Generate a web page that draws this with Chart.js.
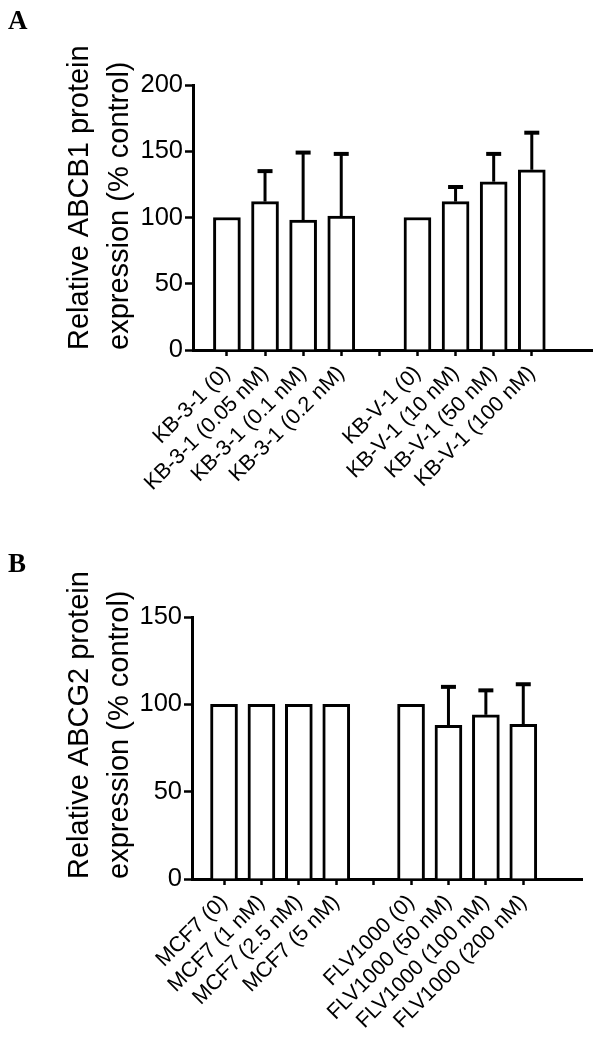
<!DOCTYPE html>
<html lang="en">
<head>
    <meta charset="UTF-8">
    <title>ABCB1 / ABCG2 protein expression</title>
    <script src="https://cdn.jsdelivr.net/npm/chart.js"></script>
    <style>
        body {
            margin: 0;
            background: #fff;
        }
        .panel {
            position: relative;
            width: 602px;
        }
        .panel-label {
            position: absolute;
            left: 8px;
            font-family: "Liberation Serif", "Times New Roman", serif;
            font-weight: bold;
            font-size: 27px;
            line-height: 27px;
        }
        canvas {
            display: block;
        }
    </style>
</head>
<body>

    <div class="panel">
        <div class="panel-label" style="top: 7px;">A</div>
        <canvas id="chartA" width="602" height="520"></canvas>
    </div>
    <div class="panel">
        <div class="panel-label" style="top: 30px;">B</div>
        <canvas id="chartB" width="602" height="523"></canvas>
    </div>

    <script>
        // Panel A - ABCB1
        const categoriesA = ['KB-3-1 (0)', 'KB-3-1 (0.05 nM)', 'KB-3-1 (0.1 nM)', 'KB-3-1 (0.2 nM)', '',
            'KB-V-1 (0)', 'KB-V-1 (10 nM)', 'KB-V-1 (50 nM)', 'KB-V-1 (100 nM)'];
        const meanA = [100, 112, 98, 101, null, 100, 112, 127, 136];
        const sdA = [0, 23, 51, 47, null, 0, 11, 21, 28];
        const yTicksA = [0, 50, 100, 150, 200];

        // Panel B - ABCG2
        const categoriesB = ['MCF7 (0)', 'MCF7 (1 nM)', 'MCF7 (2.5 nM)', 'MCF7 (5 nM)', '',
            'FLV1000 (0)', 'FLV1000 (50 nM)', 'FLV1000 (100 nM)', 'FLV1000 (200 nM)'];
        const meanB = [100, 100, 100, 100, null, 100, 88, 94, 88.5];
        const sdB = [0, 0, 0, 0, null, 0, 22, 14, 23];
        const yTicksB = [0, 50, 100, 150];

        const FONT = '"Liberation Sans", Arial, sans-serif';
        Chart.defaults.color = '#000';
        Chart.defaults.font.family = FONT;

        // upper error bars (mean + SD), drawn after the bars
        const errorBars = {
            id: 'errorBars',
            afterDatasetsDraw(chart, args, opts) {
                const ctx = chart.ctx;
                const x = chart.scales.x, y = chart.scales.y;
                ctx.save();
                ctx.strokeStyle = '#000';
                opts.means.forEach((m, i) => {
                    const sd = opts.sds[i];
                    if (m == null || !sd) return;
                    const px = x.getPixelForValue(i);
                    const y0 = y.getPixelForValue(m);
                    const y1 = y.getPixelForValue(m + sd);
                    ctx.lineWidth = 3;
                    ctx.beginPath();
                    ctx.moveTo(px, y0);
                    ctx.lineTo(px, y1);
                    ctx.stroke();
                    ctx.lineWidth = 4;
                    ctx.beginPath();
                    ctx.moveTo(px - 7.5, y1);
                    ctx.lineTo(px + 7.5, y1);
                    ctx.stroke();
                });
                ctx.restore();
            }
        };

        function makeChart(id, cats, means, sds, yTicks, title, box) {
            const points = [];
            means.forEach((m, i) => { if (m != null) points.push({ x: i, y: m }); });

            return new Chart(document.getElementById(id), {
                type: 'bar',
                data: {
                    datasets: [{
                        data: points,
                        backgroundColor: '#fff',
                        borderColor: '#000',
                        borderWidth: 3,
                        barThickness: 27
                    }]
                },
                plugins: [errorBars],
                options: {
                    responsive: false,
                    animation: false,
                    layout: { padding: { top: box.top, right: box.right, left: 0, bottom: 0 } },
                    plugins: {
                        legend: { display: false },
                        tooltip: { enabled: false },
                        errorBars: { means: means, sds: sds }
                    },
                    scales: {
                        x: {
                            type: 'linear',
                            offset: false,
                            min: box.xmin,
                            max: box.xmax,
                            z: 1,
                            afterBuildTicks: s => {
                                s.ticks = cats.map((c, i) => ({ value: i }));
                            },
                            afterFit: s => { s.height = box.xHeight; },
                            grid: {
                                offset: false,
                                drawOnChartArea: false,
                                tickLength: 6,
                                tickWidth: 2.5,
                                tickColor: '#000'
                            },
                            border: { color: '#000', width: 3 },
                            ticks: {
                                autoSkip: false,
                                minRotation: 45,
                                maxRotation: 45,
                                padding: 5,
                                font: { size: 21.5 },
                                callback: v => cats[v]
                            }
                        },
                        y: {
                            min: yTicks[0],
                            max: yTicks[yTicks.length - 1],
                            z: 1,
                            afterBuildTicks: s => {
                                s.ticks = yTicks.map(v => ({ value: v }));
                            },
                            afterFit: s => { s.width = box.yWidth; },
                            grid: {
                                drawOnChartArea: false,
                                tickLength: 8,
                                tickWidth: 2.5,
                                tickColor: '#000'
                            },
                            border: { color: '#000', width: 3 },
                            ticks: {
                                padding: 2,
                                font: { size: 25.5 }
                            },
                            title: {
                                display: true,
                                text: title,
                                align: 'start',
                                font: { size: 29, lineHeight: 1.38 },
                                padding: { top: 60, bottom: 0 }
                            }
                        }
                    }
                }
            });
        }

        makeChart('chartA', categoriesA, meanA, sdA, yTicksA,
            ['Relative ABCB1 protein', 'expression (% control)'],
            { top: 85, right: 10, yWidth: 193, xHeight: 170, xmin: -0.89, xmax: 9.58 });

        makeChart('chartB', categoriesB, meanB, sdB, yTicksB,
            ['Relative ABCG2 protein', 'expression (% control)'],
            { top: 97, right: 20, yWidth: 192, xHeight: 164, xmin: -0.856, xmax: 9.57 });
    </script>
</body>
</html>
